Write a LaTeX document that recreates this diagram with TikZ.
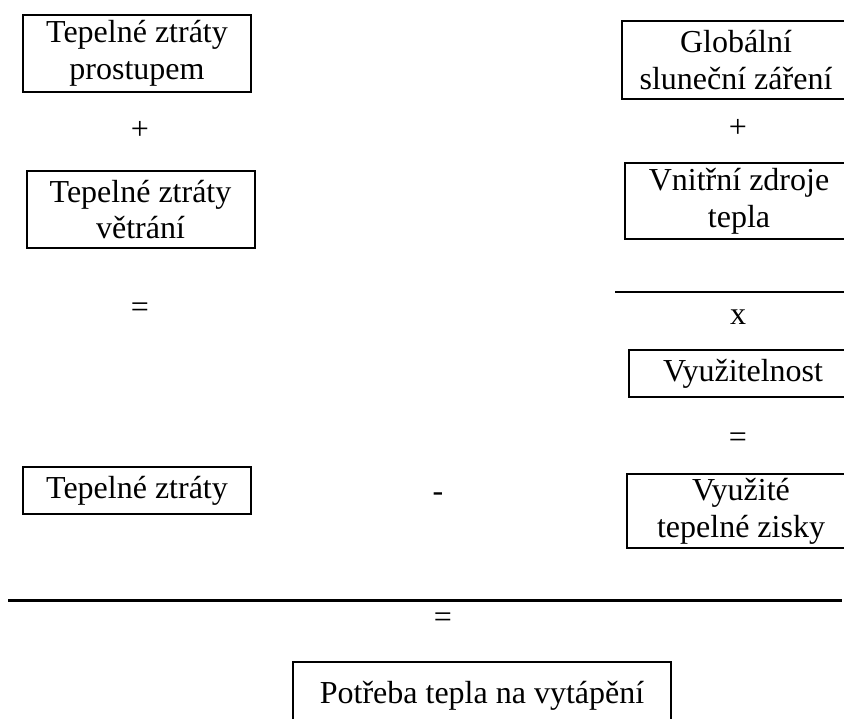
\documentclass[tikz,border=0pt]{standalone}
\usepackage{fontspec}
\setmainfont{Liberation Serif}
\begin{document}
\begin{tikzpicture}[x=0.5pt,y=-0.5pt,
  box/.style={draw,line width=1pt,align=center,inner sep=0pt,minimum width=114pt,font=\fontsize{16}{18.4}\selectfont},
  sign/.style={inner sep=0pt,font=\fontsize{16}{18.4}\selectfont}]
\useasboundingbox (0,0) rectangle (844,718);
\clip (0,0) rectangle (844,718);
% ztraty
\node[box,minimum height=38.5pt] (prostup) at (137,53.5) {Tepelné ztráty\\prostupem};
\node[sign] (plusL) at (140,130) {+};
\node[box,minimum height=38.5pt] (vetrani) at (140.5,209.5) {Tepelné ztráty\\větrání};
\node[sign] (eqL) at (140,310) {=};
\node[box,minimum height=23.5pt] (ztraty) at (137,490.5) {Tepelné ztráty};
\node[sign] (minus) at (438,497) {-};
% zisky
\node[box,minimum height=39pt] (zareni) at (736,60) {Globální\\sluneční záření};
\node[sign] (plusR) at (738,128) {+};
\node[box,minimum height=38pt] (zdroje) at (739,201) {Vnitřní zdroje\\tepla};
\draw[line width=1pt] (615,292)--(844,292);
\node[sign] (krat) at (738,317) {x};
\node[box,minimum height=23.5pt] (vyuzit) at (743,373.5) {Využitelnost};
\node[sign] (eqR) at (738,440) {=};
\node[box,minimum height=37pt] (zisky) at (741,511) {Využité\\tepelné zisky};
% vysledek
\draw[line width=1.5pt] (8,600)--(842,600);
\node[sign] (eqB) at (443,620) {=};
\node[box,minimum width=189pt,anchor=north,text height=20.5pt,text depth=20pt] (potreba) at (482,661) {Potřeba tepla na vytápění};
\end{tikzpicture}
\end{document}
